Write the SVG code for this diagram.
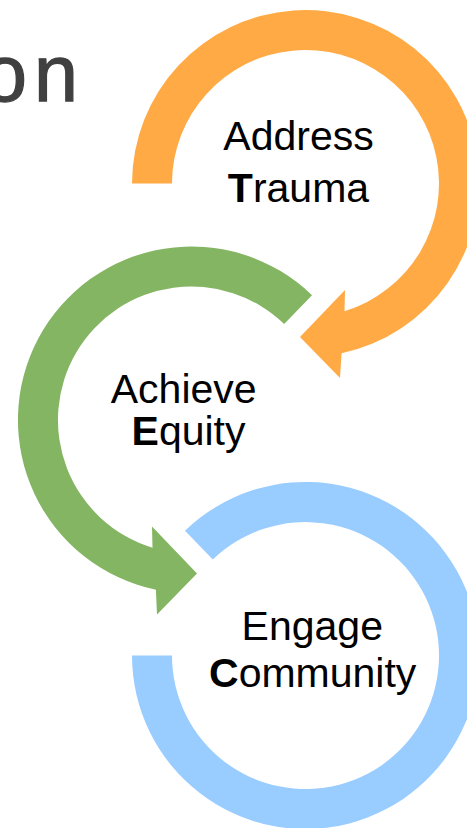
<svg xmlns="http://www.w3.org/2000/svg" width="467" height="828" viewBox="0 0 467 828">
  <style>
    .lbl { font-family: "Liberation Sans", Arial, sans-serif; font-size: 41px; fill: #000000; text-anchor: middle; }
    .b { font-weight: bold; }
    .title { font-family: "Liberation Sans", Arial, sans-serif; font-size: 79px; fill: #404040; stroke: #404040; stroke-width: 1.3px; letter-spacing: 7px; }
    .orange { fill: #FFAA44; }
    .green { fill: #84B563; }
    .blue { fill: #99CCFF; }
  </style>
  <rect x="0" y="0" width="467" height="828" fill="#FFFFFF"/>
  <text class="title" x="-17" y="100.5">on</text>

  <g id="address-trauma">
    <path class="orange" d="M 132 183.5 A 173.5 173.5 0 1 1 341.6 353.3 L 340 378 L 300 337 L 345 290 L 344.5 311.2 A 133.5 133.5 0 1 0 172 183.5 Z"/>
    <text class="lbl" x="298.5" y="149.5">Address</text>
    <text class="lbl" x="298.5" y="201.5"><tspan class="b">T</tspan>rauma</text>
  </g>

  <g id="achieve-equity">
    <path class="green" d="M 312 295.2 A 173.5 173.5 0 1 0 155.9 589.8 L 157 614.5 L 197 573.5 L 152 526.5 L 152.5 547.7 A 133.5 133.5 0 1 1 284.2 324 Z"/>
    <text class="lbl" x="183.7" y="402.5">Achieve</text>
    <text class="lbl" x="188.5" y="445"><tspan class="b">E</tspan>quity</text>
  </g>

  <g id="engage-community">
    <path class="blue" d="M 185 530.7 A 173.5 173.5 0 1 1 132 655.5 L 172 655.5 A 133.5 133.5 0 1 0 212.8 559.5 Z"/>
    <text class="lbl" x="312.3" y="640">Engage</text>
    <text class="lbl" x="312.7" y="687"><tspan class="b">C</tspan>ommunity</text>
  </g>

  <g id="connectors"></g>
</svg>
